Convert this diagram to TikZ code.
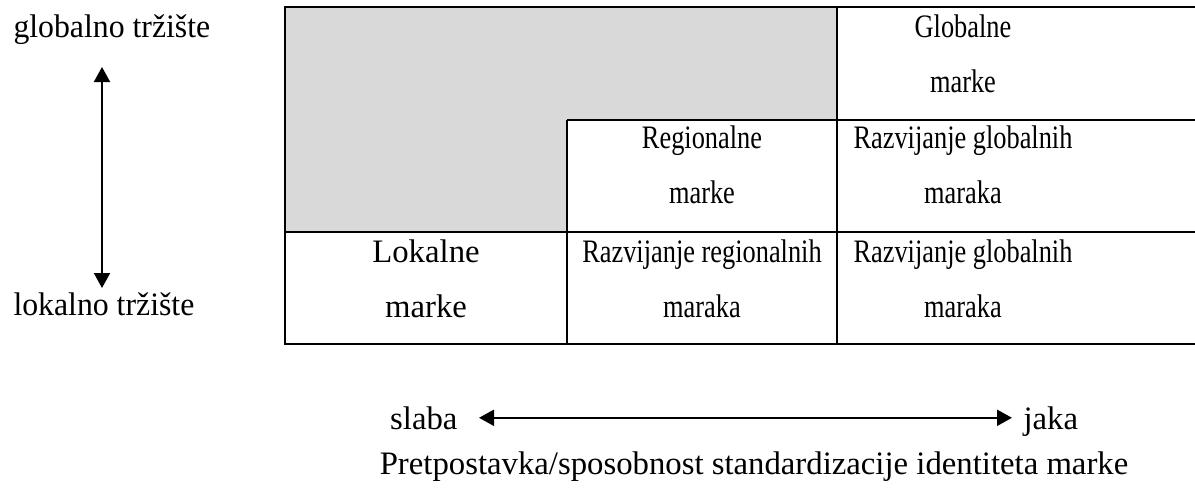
\documentclass[tikz,border=0pt]{standalone}
\usepackage{fontspec}
\setmainfont{Liberation Serif}
\newfontfamily\narrowfont[FakeStretch=0.805]{Liberation Serif}
\newfontfamily\sidefont[FakeStretch=0.97]{Liberation Serif}
\usetikzlibrary{arrows.meta}
\definecolor{cellgray}{HTML}{D9D9D9}

\begin{document}
\begin{tikzpicture}[x=0.4pt,y=-0.4pt,
    lbl/.style = {font=\fontsize{13.1}{22}\selectfont, align=center, anchor=base, inner sep=0pt},
    narrow/.style = {lbl, font=\narrowfont\fontsize{13.1}{22}\selectfont},
    side/.style = {lbl, font=\sidefont\fontsize{13.1}{22}\selectfont, anchor=base west},
    arr/.style = {{Triangle[length=6pt,width=6.4pt]}-{Triangle[length=6pt,width=6.4pt]}, line width=0.8pt},
    grid/.style = {line width=0.8pt}]
    \useasboundingbox (0,0) rectangle (1195,488);
    % shaded corner of the matrix
    \fill[cellgray] (285,7) -- (837,7) -- (837,120) -- (567,120) -- (567,232) -- (285,232) -- cycle;
    \draw[grid] (1195,7) -- (285,7) -- (285,344) -- (1195,344);
    \draw[grid] (567,120) -- (1195,120);
    \draw[grid] (285,232) -- (1195,232);
    \draw[grid] (837,7) -- (837,344);
    \draw[grid] (567,120) -- (567,344);
    % cells (base = last line)
    \node[narrow] (glob) at (963,92) {Globalne\\marke};
    \node[narrow] (reg) at (702,203) {Regionalne\\marke};
    \node[narrow] (rglob1) at (963,203) {Razvijanje globalnih\\maraka};
    \node[lbl] (lok) at (426,317) {Lokalne\\marke};
    \node[narrow] (rreg) at (702,317) {Razvijanje regionalnih\\maraka};
    \node[narrow] (rglob2) at (963,317) {Razvijanje globalnih\\maraka};
    % vertical axis
    \node[side] (gt) at (13,37) {globalno tržište};
    \node[side] (lt) at (13,315) {lokalno tržište};
    \coordinate (up) at (102,67);
    \coordinate (dn) at (102,288);
    \draw[arr] (up) -- (dn);
    % horizontal axis
    \node[lbl, anchor=base east] (slaba) at (458,429) {slaba};
    \node[lbl, anchor=base west] (jaka) at (1023,429) {jaka};
    \draw[arr, shorten <=8.4pt, shorten >=4.4pt] (slaba.east) -- (slaba.east -| jaka.west);
    \node[lbl] (title) at (754,474) {Pretpostavka/sposobnost standardizacije identiteta marke};
\end{tikzpicture}
\end{document}
